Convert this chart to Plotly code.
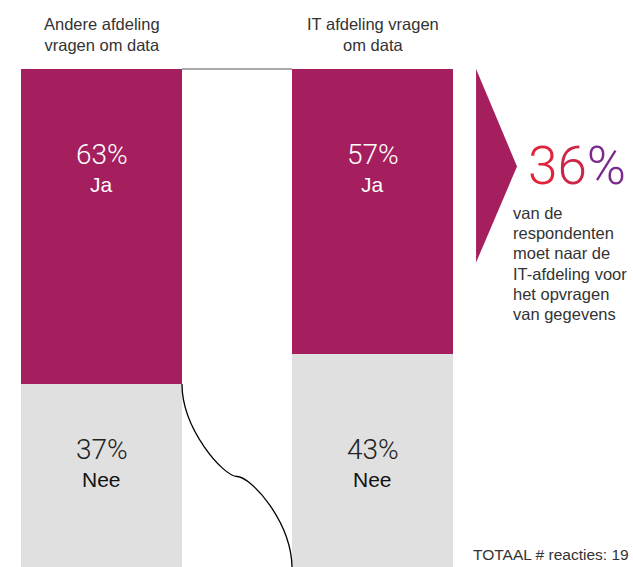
import plotly.graph_objects as go

# Data
groups = ["Andere afdeling<br>vragen om data", "IT afdeling vragen<br>om data"]
ja_values = [63, 57]
nee_values = [37, 43]
ja_label = "Ja"
nee_label = "Nee"
highlight_value = 36
highlight_lines = ["van de", "respondenten", "moet naar de", "IT-afdeling voor",
                   "het opvragen", "van gegevens"]
total_text = "TOTAAL # reacties: 19"

PURPLE = "#A51F5E"
GRAY = "#E0E0E0"
FONT = "Liberation Sans, Arial, sans-serif"
LIGHT = "Roboto, Liberation Sans, sans-serif"

xs = list(range(len(groups)))
bar_w = 0.594

fig = go.Figure()
fig.add_trace(go.Bar(x=xs, y=nee_values, marker=dict(color=GRAY, line=dict(width=0)),
                     width=bar_w, hoverinfo="skip", name=nee_label))
fig.add_trace(go.Bar(x=xs, y=ja_values, marker=dict(color=PURPLE, line=dict(width=0)),
                     width=bar_w, hoverinfo="skip", name=ja_label))

ann = []
for i, g in enumerate(groups):
    ann.append(dict(x=i, y=107, text=g, showarrow=False, xanchor="center", yanchor="middle",
                    font=dict(family=FONT, size=16.5, color="#333333")))
    ann.append(dict(x=i, y=83, text=f"{ja_values[i]}%", showarrow=False,
                    font=dict(family=LIGHT, size=28, color="white", weight=300)))
    ann.append(dict(x=i, y=77, text=ja_label, showarrow=False,
                    font=dict(family=FONT, size=21, color="white")))
    ann.append(dict(x=i, y=24, text=f"{nee_values[i]}%", showarrow=False,
                    font=dict(family=LIGHT, size=28, color="#222222", weight=300)))
    ann.append(dict(x=i, y=18, text=nee_label, showarrow=False,
                    font=dict(family=FONT, size=21, color="#111111")))

s = str(highlight_value)
big = (f"<span style='color:#E0253B'>{s[0]}</span>"
       f"<span style='color:#CC2547'>{s[1]}</span>"
       f"<span style='color:#7A2A8C'>%</span>")
ann.append(dict(x=1.565, y=80.6, text=big, showarrow=False, xanchor="left", yanchor="middle",
                font=dict(family=LIGHT, size=53, weight=300)))
for k, line in enumerate(highlight_lines):
    ann.append(dict(x=1.511, y=71.2 - k * 4.04, text=line, showarrow=False, xanchor="left",
                    yanchor="middle", align="left",
                    font=dict(family=FONT, size=16.5, color="#333333")))
ann.append(dict(x=1.364, y=3.0, text=total_text, showarrow=False, xanchor="left",
                yanchor="middle", font=dict(family=FONT, size=15.5, color="#333333")))

le = xs[0] + bar_w / 2
re = xs[1] - bar_w / 2
mid = (le + re) / 2
y0 = nee_values[0]
ymid = y0 / 2
shapes = [
    dict(type="line", xref="x", yref="y", x0=le, x1=re, y0=100, y1=100,
         line=dict(color="#555555", width=1)),
    dict(type="path", xref="x", yref="y",
         path=(f"M {le},{y0} C {le},{y0-9} {mid-0.05},{ymid} {mid},{ymid} "
               f"C {mid+0.05},{ymid} {re},{ymid-9} {re},0"),
         line=dict(color="black", width=1.3)),
    dict(type="path", xref="x", yref="y",
         path="M 1.382,100 L 1.533,80.5 L 1.382,61.3 Z",
         fillcolor=PURPLE, line=dict(width=0)),
]

fig.update_layout(
    barmode="stack", width=633, height=567,
    margin=dict(l=0, r=0, t=0, b=0),
    paper_bgcolor="white", plot_bgcolor="white",
    showlegend=False, annotations=ann, shapes=shapes,
    xaxis=dict(range=[-0.3745, 1.961], visible=False, fixedrange=True),
    yaxis=dict(range=[0.4, 113.8], visible=False, fixedrange=True),
    bargap=0,
)
fig.write_html("out.html", config={"displayModeBar": False})
